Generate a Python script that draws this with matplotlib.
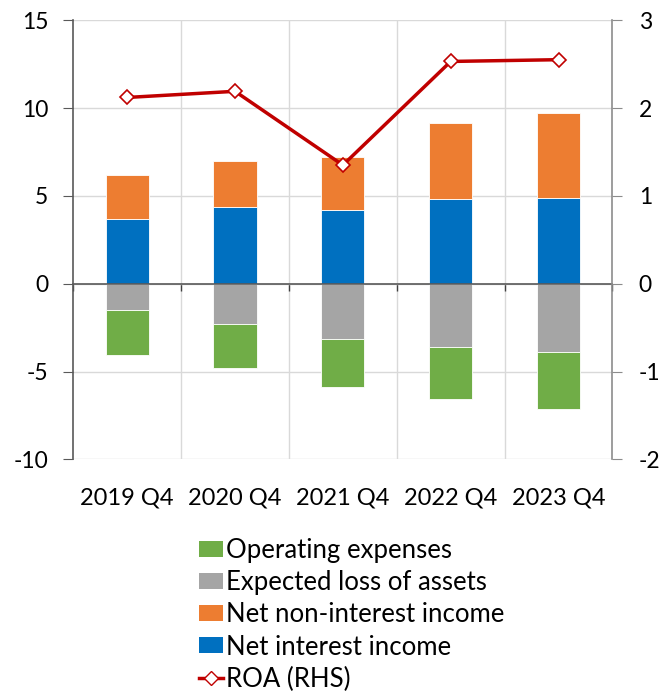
import numpy as np
import matplotlib
matplotlib.use("Agg")
import matplotlib.pyplot as plt
from matplotlib.patches import Patch
from matplotlib.lines import Line2D

plt.rcParams['font.family'] = ['Lato', 'DejaVu Sans']

quarters = ['2019 Q4', '2020 Q4', '2021 Q4', '2022 Q4', '2023 Q4']
net_interest = [3.68, 4.38, 4.19, 4.84, 4.89]
net_non_interest = [2.52, 2.58, 3.02, 4.28, 4.80]
expected_loss = [-1.51, -2.29, -3.13, -3.62, -3.87]
operating_exp = [-2.53, -2.52, -2.76, -2.96, -3.28]
roa = [2.12, 2.19, 1.35, 2.53, 2.55]

c_blue = '#0070C0'
c_orange = '#ED7D31'
c_grey = '#A5A5A5'
c_green = '#70AD47'
c_red = '#C00000'

fig = plt.figure(figsize=(6.6, 6.95), dpi=100)
ax = fig.add_axes([0.111, 0.339, 0.817, 0.632])
ax2 = ax.twinx()

x = np.arange(len(quarters))
w = 0.4
ni = np.array(net_interest)
nn = np.array(net_non_interest)
el = np.array(expected_loss)
oe = np.array(operating_exp)

# stacked bars: income above zero, costs below
ax.bar(x, ni, w, color=c_blue, edgecolor='white', linewidth=0.6, zorder=3)
ax.bar(x, nn, w, bottom=ni, color=c_orange, edgecolor='white', linewidth=0.6, zorder=3)
ax.bar(x, el, w, color=c_grey, edgecolor='white', linewidth=0.6, zorder=3)
ax.bar(x, oe, w, bottom=el, color=c_green, edgecolor='white', linewidth=0.6, zorder=3)

ax.set_xlim(-0.5, len(quarters) - 0.5)
ax.set_ylim(-10, 15)
ax.set_yticks(np.arange(-10, 16, 5))
ax.set_yticklabels([str(v) for v in range(-10, 16, 5)])
ax.grid(axis='y', color='#D9D9D9', linewidth=1, zorder=0)
ax.set_axisbelow(True)

# vertical grid lines at category boundaries
for b in np.arange(0.5, len(quarters) - 0.5, 1):
    ax.axvline(b, color='#D9D9D9', linewidth=1, zorder=0)

# x-axis sits at zero with boundary ticks, labels at the bottom
ax.spines['bottom'].set_position(('data', 0))
ax.spines['bottom'].set_color('#595959')
ax.spines['bottom'].set_linewidth(1.2)
ax.spines['bottom'].set_zorder(4)
ax.set_xticks(np.arange(-0.5, len(quarters), 1))
ax.set_xticklabels([])
ax.tick_params(axis='x', direction='out', length=5, color='#404040', width=1)
for i, q in enumerate(quarters):
    ax.text(i, -0.063, q, transform=ax.get_xaxis_transform(), ha='center', va='top', fontsize=17)

ax.spines['top'].set_visible(False)
ax.spines['right'].set_visible(False)
ax.spines['left'].set_color('#595959')
ax.spines['left'].set_linewidth(1.2)
ax.tick_params(axis='y', direction='out', length=7, color='#595959', labelsize=16.5, pad=11)

ax2.plot(x, roa, color=c_red, linewidth=2.5, marker='D', markersize=7,
         markerfacecolor='white', markeredgecolor=c_red, markeredgewidth=1.2, zorder=5)
ax2.set_ylim(-2, 3)
ax2.set_yticks(np.arange(-2, 4, 1))
ax2.set_yticklabels([str(v) for v in range(-2, 4)])
for s in ['top', 'left', 'bottom']:
    ax2.spines[s].set_visible(False)
ax2.spines['right'].set_color('#8C8C8C')
ax2.spines['right'].set_linewidth(1.2)
ax2.tick_params(axis='y', direction='out', length=7, color='#8C8C8C', labelsize=16.5, pad=12)

handles = [
    Patch(facecolor=c_green, label='Operating expenses'),
    Patch(facecolor=c_grey, label='Expected loss of assets'),
    Patch(facecolor=c_orange, label='Net non-interest income'),
    Patch(facecolor=c_blue, label='Net interest income'),
    Line2D([0], [0], color=c_red, linewidth=2.5, marker='D', markersize=7,
           markerfacecolor='white', markeredgecolor=c_red, label='ROA (RHS)'),
]
fig.legend(handles=handles, loc='upper left', bbox_to_anchor=(0.302, 0.226),
           frameon=False, fontsize=18.5, handlelength=0.93, handleheight=0.58,
           handletextpad=0.1, labelspacing=0.28, borderaxespad=0, borderpad=0)

fig.savefig('out.png', dpi=100)
